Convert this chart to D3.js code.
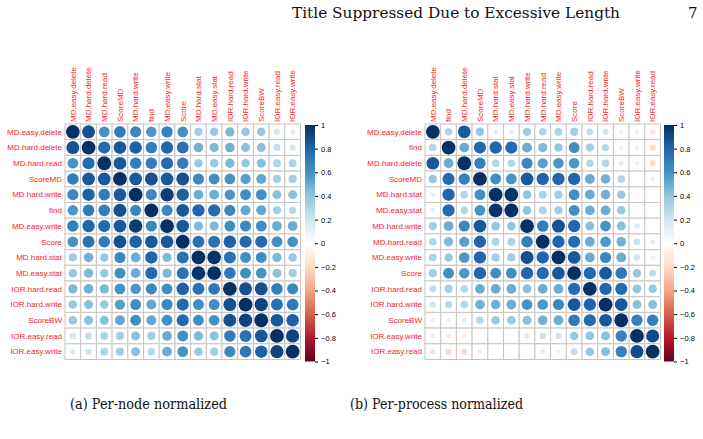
<!DOCTYPE html>
<html>
<head>
<meta charset="utf-8">
<script src="https://d3js.org/d3.v7.min.js"></script>
<style>
  body { margin: 0; background: #fff; }
  svg { display: block; }
  .lab { font-family: "Liberation Sans", Arial, sans-serif; font-size: 8px; fill: #ff1a1a; }
  .cb text { font-family: "Liberation Sans", Arial, sans-serif; font-size: 7.5px; fill: #000; }
  .serif { font-family: "DejaVu Serif", "Liberation Serif", serif; fill: #111; }
</style>
</head>
<body>
<svg width="703" height="439"></svg>
<script>
// (a) per-node normalized: variable order and correlation rows
var varsNode = ["MD.easy.delete", "MD.hard.delete", "MD.hard.read", "ScoreMD", "MD.hard.write",
                "find", "MD.easy.write", "Score", "MD.hard.stat", "MD.easy.stat",
                "IOR.hard.read", "IOR.hard.write", "ScoreBW", "IOR.easy.read", "IOR.easy.write"];
var corrNode = [
  [1, .88, .60, .70, .65, .58, .68, .60, .35, .38, .45, .38, .38, .20, .15],
  [.88, 1, .78, .85, .82, .70, .80, .75, .48, .45, .48, .42, .42, .25, .20],
  [.60, .78, 1, .85, .70, .70, .78, .70, .38, .38, .45, .38, .42, .32, .32],
  [.70, .85, .85, 1, .85, .88, .85, .88, .65, .62, .60, .55, .52, .35, .35],
  [.65, .82, .70, .85, 1, .65, .95, .82, .50, .50, .58, .62, .62, .42, .42],
  [.58, .70, .70, .88, .65, 1, .65, .85, .80, .78, .65, .52, .52, .35, .28],
  [.68, .80, .78, .85, .95, .65, 1, .85, .45, .45, .62, .65, .62, .50, .50],
  [.60, .75, .70, .88, .82, .85, .85, 1, .75, .75, .82, .78, .78, .62, .60],
  [.35, .48, .38, .65, .50, .80, .45, .75, 1, .98, .75, .62, .62, .45, .38],
  [.38, .45, .38, .62, .50, .78, .45, .75, .98, 1, .72, .62, .60, .42, .35],
  [.45, .48, .45, .60, .58, .65, .62, .82, .75, .72, 1, .88, .88, .70, .65],
  [.38, .42, .38, .55, .62, .52, .65, .78, .62, .62, .88, 1, .93, .75, .72],
  [.38, .42, .42, .52, .62, .52, .62, .78, .62, .60, .88, .93, 1, .85, .82],
  [.20, .25, .32, .35, .42, .35, .50, .62, .45, .42, .70, .75, .85, 1, .92],
  [.15, .20, .32, .35, .42, .28, .50, .60, .38, .35, .65, .72, .82, .92, 1]
];

// (b) per-process normalized
var varsProc = ["MD.easy.delete", "find", "MD.hard.delete", "ScoreMD", "MD.hard.stat",
                "MD.easy.stat", "MD.hard.write", "MD.hard.read", "MD.easy.write", "Score",
                "IOR.hard.read", "IOR.hard.write", "ScoreBW", "IOR.easy.write", "IOR.easy.read"];
var corrProc = [
  [1, .30, .85, .38, .12, .12, .35, .30, .32, .35, .25, .20, .10, -.12, -.15],
  [.30, 1, .50, .78, .80, .78, .50, .45, .38, .62, .35, .28, .10, -.12, -.20],
  [.85, .50, 1, .68, .30, .30, .65, .55, .58, .58, .30, .30, .12, -.10, -.20],
  [.38, .78, .68, 1, .62, .60, .85, .80, .80, .80, .50, .48, .30, .00, -.10],
  [.12, .80, .30, .62, 1, .98, .40, .32, .35, .62, .50, .48, .38, .03, .02],
  [.12, .78, .30, .60, .98, 1, .40, .32, .35, .62, .50, .50, .38, .05, .00],
  [.35, .50, .65, .85, .40, .40, 1, .70, .88, .80, .42, .60, .42, .15, .00],
  [.30, .45, .55, .80, .32, .32, .70, 1, .80, .78, .50, .58, .48, .22, .12],
  [.32, .38, .58, .80, .35, .35, .88, .80, 1, .85, .50, .65, .50, .20, .10],
  [.35, .62, .58, .80, .62, .62, .80, .78, .85, 1, .78, .85, .72, .38, .25],
  [.25, .35, .30, .50, .50, .50, .42, .50, .50, .78, 1, .80, .78, .40, .38],
  [.20, .28, .30, .48, .48, .50, .60, .58, .65, .85, .80, 1, .85, .42, .42],
  [.10, .10, .12, .30, .38, .38, .42, .48, .50, .72, .78, .85, 1, .68, .68],
  [-.12, -.12, -.10, .00, .03, .05, .15, .22, .20, .38, .40, .42, .68, 1, .90],
  [-.15, -.20, -.20, -.10, .02, .00, .00, .12, .10, .25, .38, .42, .68, .90, 1]
];

var legendTicks = [1, 0.8, 0.6, 0.4, 0.2, 0, -0.2, -0.4, -0.6, -0.8, -1];
// corrplot RdBu ramp, from -1 to 1
var rdbuStops = ["#67001F", "#B2182B", "#D6604D", "#F4A582", "#FDDBC7", "#FFFFFF",
                 "#D1E5F0", "#92C5DE", "#4393C3", "#2166AC", "#053061"];

var svg = d3.select("svg");
var cell = 15.7;

var color = d3.scaleLinear()
    .domain(rdbuStops.map(function(d, i) { return -1 + i * 0.2; }))
    .range(rdbuStops)
    .interpolate(d3.interpolateRgb);
var radius = d3.scaleSqrt().domain([0, 1]).range([0, cell * 0.44]);

// gradient for the colour bars
var grad = svg.append("defs").append("linearGradient")
    .attr("id", "rdbu")
    .attr("x1", 0).attr("y1", 1).attr("x2", 0).attr("y2", 0);
grad.selectAll("stop")
  .data(rdbuStops)
  .enter().append("stop")
    .attr("offset", function(d, i) { return i / (rdbuStops.length - 1); })
    .attr("stop-color", function(d) { return d; });

function drawPanel(x0, y0, vars, corr, barX) {
  var n = vars.length;
  var x = d3.scaleBand().domain(vars).range([x0, x0 + n * cell]);
  var y = d3.scaleBand().domain(vars).range([y0, y0 + n * cell]);
  var g = svg.append("g");

  var cells = [];
  corr.forEach(function(row, i) {
    row.forEach(function(v, j) { cells.push({r: vars[i], c: vars[j], v: v}); });
  });

  g.selectAll("rect.cell")
    .data(cells)
    .enter().append("rect")
      .attr("class", "cell")
      .attr("x", function(d) { return x(d.c); })
      .attr("y", function(d) { return y(d.r); })
      .attr("width", x.bandwidth())
      .attr("height", y.bandwidth())
      .attr("fill", "#fff")
      .attr("stroke", "#c6c6c6")
      .attr("stroke-width", 1);

  g.selectAll("circle")
    .data(cells)
    .enter().append("circle")
      .attr("cx", function(d) { return x(d.c) + x.bandwidth() / 2; })
      .attr("cy", function(d) { return y(d.r) + y.bandwidth() / 2; })
      .attr("r", function(d) { return radius(Math.abs(d.v)); })
      .attr("fill", function(d) { return color(d.v); });

  // row labels
  g.selectAll("text.row")
    .data(vars)
    .enter().append("text")
      .attr("class", "lab")
      .attr("text-anchor", "end")
      .attr("x", x0 - 3)
      .attr("y", function(d) { return y(d) + y.bandwidth() / 2; })
      .attr("dy", "0.35em")
      .text(function(d) { return d; });

  // column labels, rotated
  g.selectAll("text.col")
    .data(vars)
    .enter().append("text")
      .attr("class", "lab")
      .attr("text-anchor", "start")
      .attr("transform", function(d) {
        return "translate(" + (x(d) + x.bandwidth() / 2) + "," + (y0 - 2) + ") rotate(-90)";
      })
      .attr("dy", "0.35em")
      .text(function(d) { return d; });

  // colour bar
  var ly = d3.scaleLinear().domain([-1, 1]).range([361.5, 125]);
  svg.append("rect")
    .attr("x", barX)
    .attr("y", ly(1))
    .attr("width", 10)
    .attr("height", ly(-1) - ly(1))
    .attr("fill", "url(#rdbu)");
  var ax = svg.append("g")
    .attr("class", "cb")
    .attr("transform", "translate(" + (barX + 10) + ",0)")
    .call(d3.axisRight(ly).tickValues(legendTicks).tickSize(3).tickPadding(3)
            .tickFormat(d3.format("~g")));
  ax.select(".domain").remove();
  ax.selectAll(".tick line").attr("stroke", "#000");
}

drawPanel(65, 124, varsNode, corrNode, 305);
drawPanel(425, 124, varsProc, corrProc, 664);

// running head and captions
svg.append("text").attr("class", "serif")
  .attr("x", 292).attr("y", 17.5)
  .attr("font-size", "15px")
  .attr("textLength", 328).attr("lengthAdjust", "spacingAndGlyphs")
  .text("Title Suppressed Due to Excessive Length");
svg.append("text").attr("class", "serif")
  .attr("x", 688).attr("y", 17.5)
  .attr("font-size", "15px")
  .text("7");
svg.append("text").attr("class", "serif")
  .attr("x", 70).attr("y", 409)
  .attr("font-size", "14px")
  .attr("textLength", 157).attr("lengthAdjust", "spacingAndGlyphs")
  .text("(a) Per-node normalized");
svg.append("text").attr("class", "serif")
  .attr("x", 350).attr("y", 409)
  .attr("font-size", "14px")
  .attr("textLength", 173).attr("lengthAdjust", "spacingAndGlyphs")
  .text("(b) Per-process normalized");
</script>
</body>
</html>
